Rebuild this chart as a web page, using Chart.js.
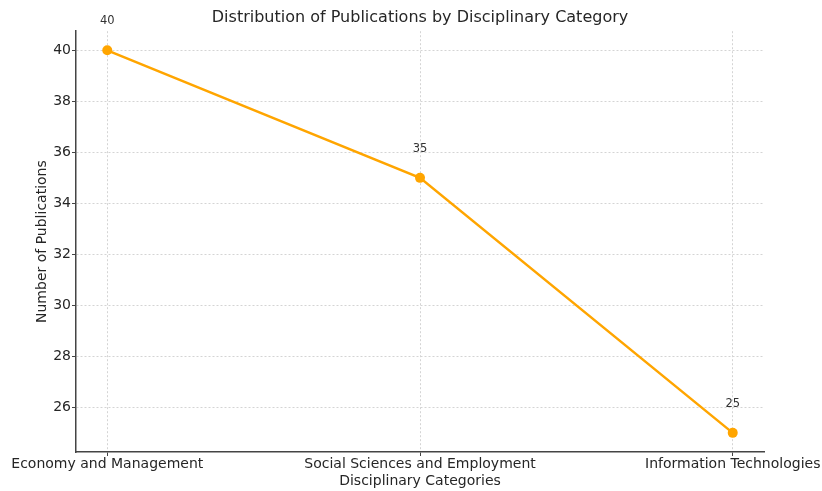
<!DOCTYPE html>
<html>
<head>
<meta charset="utf-8">
<script src="https://cdn.jsdelivr.net/npm/chart.js@4"></script>
<style>
  html, body { margin: 0; padding: 0; background: #fff; }
  #wrap { width: 822px; height: 491px; }
</style>
</head>
<body>
<div id="wrap"><canvas id="pubChart"></canvas></div>
<script>
// Publications per disciplinary category
const categories = ['Economy and Management', 'Social Sciences and Employment', 'Information Technologies'];
const publications = [40, 35, 25];
const yTicks = [26, 28, 30, 32, 34, 36, 38, 40];

const FONT = '"DejaVu Sans", sans-serif';
const TEXT = '#262626';
const ORANGE = '#FFA500';

// value labels above each point
const pointLabels = {
  id: 'pointLabels',
  afterDatasetsDraw(chart) {
    const ctx = chart.ctx;
    const meta = chart.getDatasetMeta(0);
    ctx.save();
    ctx.font = '11.5px ' + FONT;
    ctx.fillStyle = '#333';
    ctx.textAlign = 'center';
    ctx.textBaseline = 'middle';
    meta.data.forEach((pt, i) => {
      ctx.fillText(String(publications[i]), pt.x, pt.y - 29);
    });
    ctx.restore();
  }
};

Chart.defaults.font.family = FONT;
Chart.defaults.color = TEXT;

const gridOpts = {
  color: '#d4d4d4',
  tickLength: 4,
  tickColor: '#444',
  tickBorderDash: []
};
const borderOpts = { display: true, color: '#444', width: 1.5, dash: [2, 2] };

new Chart(document.getElementById('pubChart').getContext('2d'), {
  type: 'line',
  data: {
    datasets: [{
      data: publications.map((v, i) => ({ x: i, y: v })),
      borderColor: ORANGE,
      backgroundColor: ORANGE,
      borderWidth: 2.5,
      pointRadius: 5,
      pointBorderWidth: 0,
      pointBackgroundColor: ORANGE,
      tension: 0,
      fill: false
    }]
  },
  options: {
    responsive: true,
    maintainAspectRatio: false,
    animation: false,
    layout: { padding: { left: 34, right: 58, top: 0, bottom: 0 } },
    plugins: {
      legend: { display: false },
      tooltip: { enabled: false },
      title: {
        display: true,
        text: 'Distribution of Publications by Disciplinary Category',
        fullSize: false,
        color: TEXT,
        font: { size: 16, weight: 'normal', family: FONT },
        padding: { top: 8, bottom: 4 }
      }
    },
    scales: {
      x: {
        type: 'linear',
        min: -0.1,
        max: 2.1,
        afterBuildTicks: s => { s.ticks = categories.map((c, i) => ({ value: i })); },
        afterFit: s => { s.height = 39; s.paddingLeft = 0; s.paddingRight = 0; },
        ticks: {
          autoSkip: false,
          maxRotation: 0,
          padding: 0,
          color: TEXT,
          font: { size: 14, family: FONT },
          callback: v => categories[v]
        },
        grid: gridOpts,
        border: borderOpts,
        title: {
          display: true,
          text: 'Disciplinary Categories',
          color: TEXT,
          font: { size: 14, family: FONT },
          padding: { top: 0, bottom: 1 }
        }
      },
      y: {
        min: 24.25,
        max: 40.75,
        afterBuildTicks: s => { s.ticks = yTicks.map(v => ({ value: v })); },
        afterFit: s => { s.width = 42; s.paddingTop = 0; s.paddingBottom = 0; },
        ticks: {
          padding: 1,
          color: TEXT,
          font: { size: 14, family: FONT }
        },
        grid: gridOpts,
        border: borderOpts,
        title: {
          display: true,
          text: 'Number of Publications',
          color: TEXT,
          font: { size: 14, family: FONT },
          padding: { top: 0, bottom: 0 }
        }
      }
    }
  },
  plugins: [pointLabels]
});
</script>
</body>
</html>
